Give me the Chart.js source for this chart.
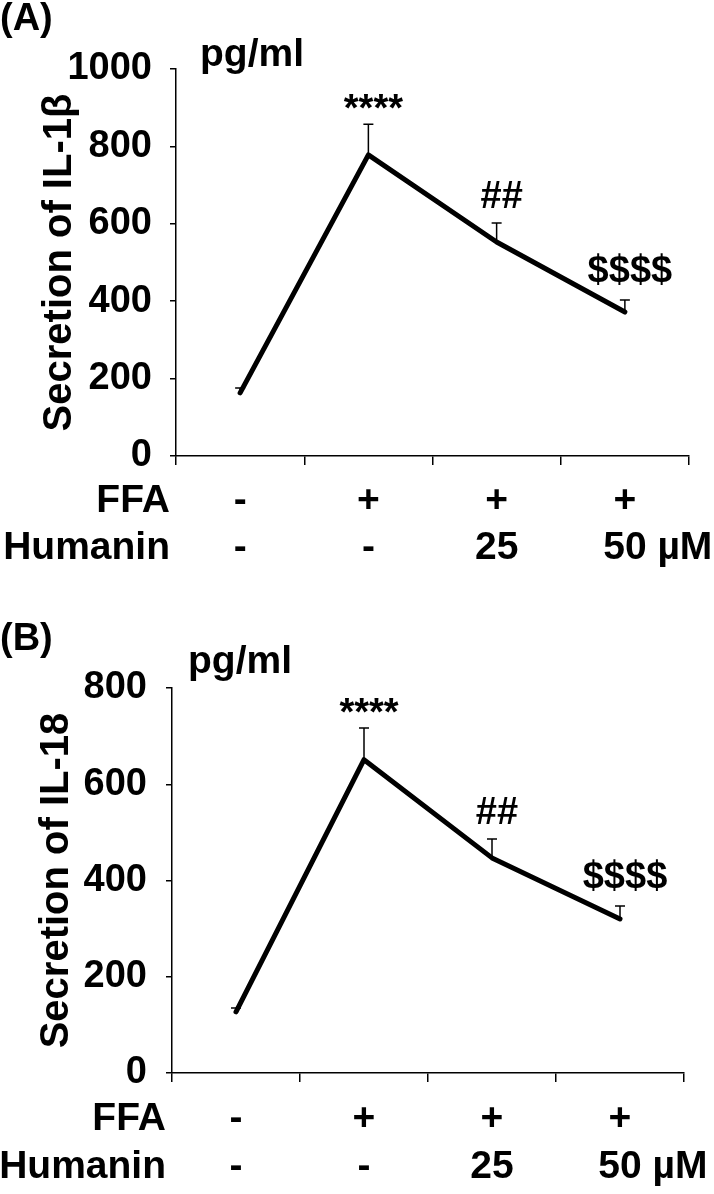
<!DOCTYPE html>
<html>
<head>
<meta charset="utf-8">
<script src="https://cdn.jsdelivr.net/npm/chart.js@4.4.1/dist/chart.umd.min.js"></script>
<style>
  html, body { margin: 0; padding: 0; background: #fff; }
  #wrap { position: relative; width: 714px; height: 1194px; }
  canvas { position: absolute; left: 0; }
  #chartA { top: 0; }
  #chartB { top: 597px; }
</style>
</head>
<body>
<div id="wrap">
  <canvas id="chartA" width="714" height="597"></canvas>
  <canvas id="chartB" width="714" height="597"></canvas>
</div>
<script>
// groups along the x axis
const groups = ['Control', 'FFA', 'FFA + Humanin 25', 'FFA + Humanin 50'];
const ffaRow = ['-', '+', '+', '+'];
const humaninRow = ['-', '-', '25', '50'];
const humaninUnit = 'µM';
const marks = ['', '****', '##', '$$$$'];

// IL-1beta (pg/ml)
const il1bMean = [163, 778, 553, 372];
const il1bErr = [13, 79, 49, 31];
const il1bTicks = [0, 200, 400, 600, 800, 1000];

// IL-18 (pg/ml)
const il18Mean = [127, 651, 447, 320];
const il18Err = [8, 66, 39, 27];
const il18Ticks = [0, 200, 400, 600, 800];

const FONT = '"Liberation Sans", Arial, Helvetica, sans-serif';

function panelPlugin(opt) {
  return {
    id: 'panelExtras',
    afterDatasetsDraw(chart) {
      const { ctx, scales: { x, y } } = chart;
      const vals = chart.data.datasets[0].data;
      ctx.save();
      ctx.strokeStyle = '#000';
      ctx.fillStyle = '#000';
      ctx.lineWidth = 1.5;
      vals.forEach((v, i) => {
        const px = x.getPixelForValue(i);
        const py = y.getPixelForValue(v);
        const top = y.getPixelForValue(v + opt.err[i]);
        ctx.beginPath();
        ctx.moveTo(px, py);
        ctx.lineTo(px, top);
        ctx.moveTo(px - 5, top);
        ctx.lineTo(px + 5, top);
        ctx.stroke();

        if (marks[i]) {
          ctx.font = 'bold 38px ' + FONT;
          ctx.textAlign = 'center';
          ctx.textBaseline = 'alphabetic';
          const m = ctx.measureText(marks[i]);
          ctx.fillText(marks[i], px + 5, top - 15 - m.actualBoundingBoxDescent);
        }
      });
      ctx.restore();
    },
    afterDraw(chart) {
      const { ctx, scales: { x, y } } = chart;
      ctx.save();
      ctx.fillStyle = '#000';
      ctx.textBaseline = 'alphabetic';

      // panel letter
      ctx.font = 'bold 38px ' + FONT;
      ctx.textAlign = 'left';
      ctx.fillText(opt.letter, 0, opt.letterY);

      // unit
      ctx.font = 'bold 39px ' + FONT;
      ctx.fillText('pg/ml', opt.unitX, opt.unitY);

      // treatment rows under the axis
      ctx.font = 'bold 39px ' + FONT;
      const rowY1 = x.bottom + opt.rowGap[0];
      const rowY2 = x.bottom + opt.rowGap[1];
      ctx.textAlign = 'right';
      ctx.fillText('FFA', y.right - 6, rowY1);
      ctx.fillText('Humanin', y.right - 6, rowY2);

      ctx.textAlign = 'center';
      ffaRow.forEach((t, i) => ctx.fillText(t, x.getPixelForValue(i), rowY1));
      humaninRow.forEach((t, i) => {
        const px = x.getPixelForValue(i);
        ctx.textAlign = 'center';
        ctx.fillText(t, px, rowY2);
        if (i === humaninRow.length - 1) {
          const w = ctx.measureText(t).width;
          ctx.textAlign = 'left';
          ctx.fillText(' ' + humaninUnit, px + w / 2, rowY2);
        }
      });
      ctx.restore();
    }
  };
}

function makePanel(id, opt) {
  const ticks = opt.ticks;
  return new Chart(document.getElementById(id), {
    type: 'line',
    data: {
      labels: groups,
      datasets: [{
        data: opt.mean,
        borderColor: '#000',
        borderWidth: 5,
        borderJoinStyle: 'round',
        borderCapStyle: 'round',
        pointRadius: 0,
        tension: 0,
        fill: false
      }]
    },
    options: {
      responsive: false,
      animation: false,
      devicePixelRatio: 1,
      layout: { padding: { left: 0, top: opt.top, right: opt.right, bottom: opt.bottom } },
      plugins: { legend: { display: false }, tooltip: { enabled: false } },
      scales: {
        x: {
          type: 'category',
          offset: true,
          grid: { offset: true, drawOnChartArea: false, tickLength: 9, color: '#000', lineWidth: 1.5 },
          border: { color: '#000', width: 1.5 },
          ticks: { display: false },
          afterFit: s => { s.height = 10; }
        },
        y: {
          min: ticks[0],
          max: ticks[ticks.length - 1],
          afterBuildTicks: s => { s.ticks = ticks.map(v => ({ value: v })); },
          ticks: {
            color: '#000',
            padding: opt.tickPad,
            font: { family: FONT, size: 38, weight: 'bold' },
            callback: v => String(v)
          },
          grid: { drawOnChartArea: false, tickLength: 6, color: '#000', lineWidth: 1.5 },
          border: { color: '#000', width: 1.5 },
          title: {
            display: true,
            text: opt.title,
            color: '#000',
            font: { family: FONT, size: 40, weight: 'bold', lineHeight: 1.2 },
            padding: { top: opt.titlePad, bottom: 0 }
          },
          afterFit: s => { s.width = opt.left; }
        }
      }
    },
    plugins: [panelPlugin(opt)]
  });
}

makePanel('chartA', {
  mean: il1bMean, err: il1bErr, ticks: il1bTicks,
  title: 'Secretion of IL-1β', letter: '(A)',
  left: 176, right: 25, top: 69, bottom: 131,
  tickPad: 18, titlePad: 36,
  letterY: 30, unitX: 200, unitY: 66,
  rowGap: [46, 93]
});

makePanel('chartB', {
  mean: il18Mean, err: il18Err, ticks: il18Ticks,
  title: 'Secretion of IL-18', letter: '(B)',
  left: 172, right: 30, top: 91, bottom: 111,
  tickPad: 19, titlePad: 33,
  letterY: 53, unitX: 188, unitY: 76,
  rowGap: [47, 95]
});
</script>
</body>
</html>
